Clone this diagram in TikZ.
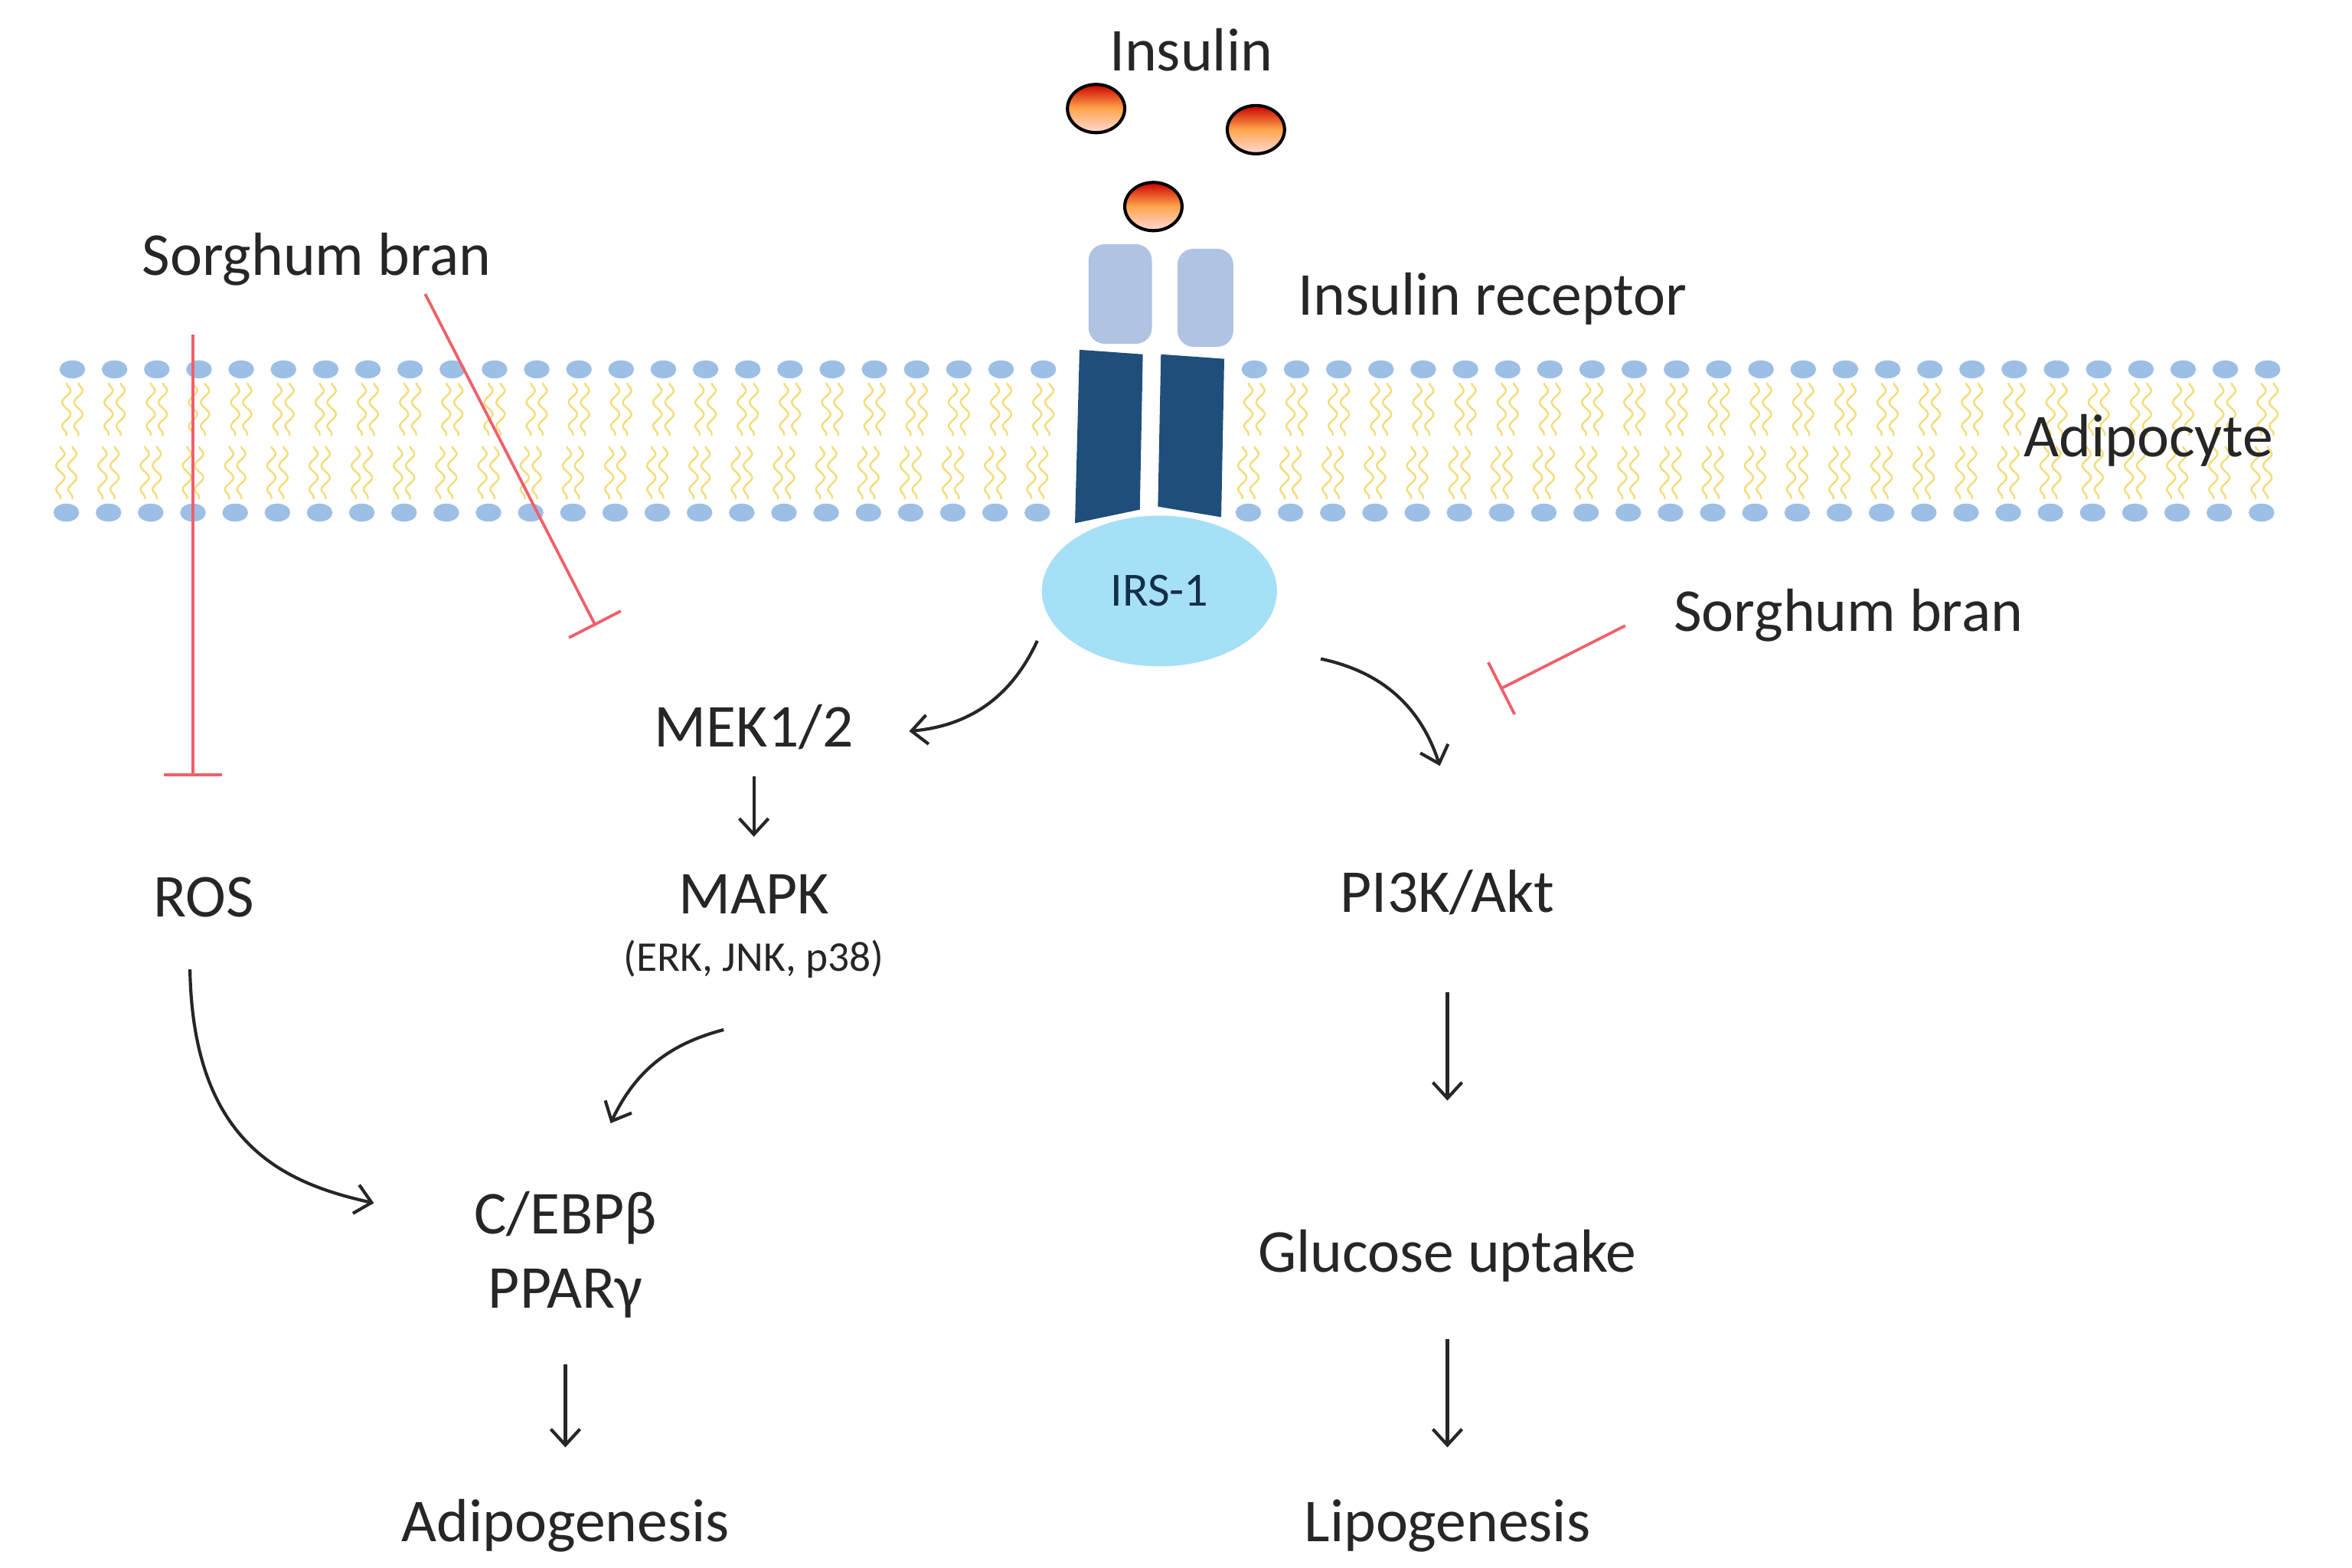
\documentclass[tikz,border=0pt]{standalone}
\usepackage{fontspec}
\setmainfont{Carlito}
\usetikzlibrary{arrows.meta, decorations.pathmorphing, shapes.geometric}

\definecolor{headblue}{HTML}{9DBFE6}
\definecolor{tailyellow}{HTML}{F3DC7A}
\definecolor{rcptlight}{HTML}{AFC3E2}
\definecolor{rcptdark}{HTML}{1F4E7A}
\definecolor{irscyan}{HTML}{A6E0F7}
\definecolor{inhibred}{HTML}{F0606A}

\begin{document}
\begin{tikzpicture}[
            x = 0.02cm, y = -0.02cm, % one unit = one pixel of the layout
            > = {Straight Barb[length=6pt, width=11pt]}, % open arrow head
            semithick,
            font = \fontsize{23}{27}\selectfont
        ]

        \tikzstyle{label}=[inner sep = 1pt, text = black!85]
        \tikzstyle{activate}=[->, black!85, line width = 1.2pt]
        \tikzstyle{inhibit}=[-{Bar[width=22pt]}, inhibred, line width = 1.1pt]
        \tikzstyle{head}=[fill = headblue, draw = none]
        \tikzstyle{tail}=[tailyellow, line width = 0.7pt,
            decorate, decoration = {snake, amplitude = 1.6pt, segment length = 9pt}]
        \tikzstyle{ligand}=[draw = black, line width = 1.2pt,
            top color = red!80!black, bottom color = red!15, middle color = orange!70]

        \useasboundingbox (0,0) rectangle (1560,1040);

        % membrane
        \foreach \x in {48,76,...,700, 832,860,...,1530} {
            \fill[head] (\x,245) ellipse (8.5 and 6);
            \fill[head] (\x-4,340) ellipse (8.5 and 6);
            \draw[tail] (\x-4,254) -- (\x-4,289);
            \draw[tail] (\x+4,254) -- (\x+4,289);
            \draw[tail] (\x-8,296) -- (\x-8,331);
            \draw[tail] (\x,296) -- (\x,331);
        }

        % insulin receptor
        \fill[rcptlight, rounded corners = 6pt] (722,162) rectangle (764,228);
        \fill[rcptlight, rounded corners = 6pt] (781,165) rectangle (818,230);
        \fill[rcptdark] (716,232) -- (758,235) -- (756,338) -- (713,347) -- cycle;
        \fill[rcptdark] (770,235) -- (812,238) -- (810,343) -- (768,336) -- cycle;

        % insulin
        \shade[ligand] (727,72) ellipse (19 and 16);
        \shade[ligand] (833,86) ellipse (19 and 16);
        \shade[ligand] (765,137) ellipse (19 and 16);

        \node[label] (insulin) at (790,33) {Insulin};
        \node[label] (receptor) at (990,198) {Insulin receptor};
        \node[label] (adipocyte) at (1425,292) {Adipocyte};

        \node[ellipse, fill = irscyan, minimum width = 3.12cm, minimum height = 2cm,
              inner sep = 0pt, text = rcptdark!60!black, font = \fontsize{18}{21}\selectfont]
              (irs) at (769,392) {IRS-1};

        \node[label] (sbleft) at (210,172) {Sorghum bran};
        \node[label] (sbright) at (1226,408) {Sorghum bran};
        \node[label] (mek) at (500,482) {MEK1/2};
        \node[label] (mapk) at (500,593) {MAPK};
        \node[label, font = \fontsize{16}{19}\selectfont] (erk) at (500,636) {(ERK, JNK, p38)};
        \node[label] (ros) at (135,595) {ROS};
        \node[label] (cebp) at (375,808) {C/EBPβ};
        \node[label] (ppar) at (375,858) {PPARγ};
        \node[label] (adipo) at (375,1012) {Adipogenesis};
        \node[label] (pi3k) at (960,592) {PI3K/Akt};
        \node[label] (glucose) at (960,833) {Glucose uptake};
        \node[label] (lipo) at (960,1012) {Lipogenesis};

        \coordinate (rosbar) at (128,515);
        \coordinate (mekbar) at (395,415);
        \coordinate (pibar) at (995,457);

        % inhibition
        \draw[inhibit] (128,222) -- (rosbar);
        \draw[inhibit] (282,195) -- (mekbar);
        \draw[inhibit] (1078,415) -- (pibar);

        % signalling
        \draw[activate] (688,425) to[bend left = 30] (603,485);
        \draw[activate] (500,515) -- (500,555);
        \draw[activate] (480,683) to[bend right = 25] (405,745);
        \draw[activate] (126,643) .. controls (128,760) and (190,785) .. (248,798);
        \draw[activate] (375,905) -- (375,960);
        \draw[activate] (876,437) to[bend left = 30] (955,508);
        \draw[activate] (960,658) -- (960,730);
        \draw[activate] (960,888) -- (960,960);
\end{tikzpicture}
\end{document}
